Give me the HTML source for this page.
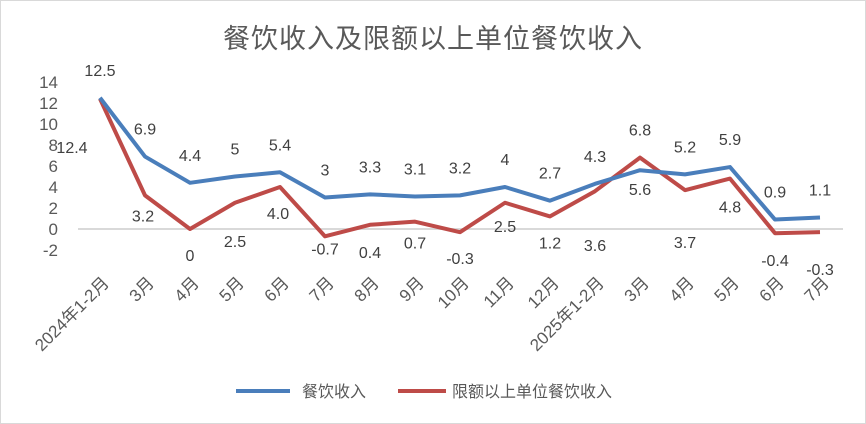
<!DOCTYPE html>
<html><head><meta charset="utf-8"><style>
body{margin:0;background:#fff}
svg{display:block;font-family:"Liberation Sans","Noto Sans CJK SC",sans-serif}
</style></head><body>
<svg id="chart" width="866" height="424" viewBox="0 0 866 424">
<rect x="0.5" y="0.5" width="865" height="423" fill="#fff" stroke="#d9d9d9"/>
<text x="433" y="48" text-anchor="middle" font-size="27" fill="#595959" letter-spacing="1">餐饮收入及限额以上单位餐饮收入</text>
<g id="grid"></g><g id="lines"></g><g id="labels"></g>
<g>
<line x1="236" y1="391" x2="290" y2="391" stroke="#4a7ebb" stroke-width="4"/>
<text x="302" y="397" font-size="16" fill="#595959">餐饮收入</text>
<line x1="398" y1="391" x2="446" y2="391" stroke="#be4b48" stroke-width="4"/>
<text x="452" y="397" font-size="16" fill="#595959">限额以上单位餐饮收入</text>
</g>
</svg>
<script>
const categories=["2024年1-2月","3月","4月","5月","6月","7月","8月","9月","10月","11月","12月","2025年1-2月","3月","4月","5月","6月","7月"];
const seriesTotal=[12.5,6.9,4.4,5,5.4,3,3.3,3.1,3.2,4,2.7,4.3,5.6,5.2,5.9,0.9,1.1];
const seriesAbove=[12.4,3.2,0,2.5,4.0,-0.7,0.4,0.7,-0.3,2.5,1.2,3.6,6.8,3.7,4.8,-0.4,-0.3];
const labelsTotal=["12.5","6.9","4.4","5","5.4","3","3.3","3.1","3.2","4","2.7","4.3","5.6","5.2","5.9","0.9","1.1"];
const labelsAbove=["12.4","3.2","0","2.5","4.0","-0.7","0.4","0.7","-0.3","2.5","1.2","3.6","6.8","3.7","4.8","-0.4","-0.3"];
const yTicks=[-2,0,2,4,6,8,10,12,14];
const offTotal=[[0,-22],[0,-22],[0,-22],[0,-22],[0,-22],[0,-22],[0,-22],[0,-22],[0,-22],[0,-22],[0,-22],[0,-22],[0,25],[0,-22],[0,-22],[0,-22],[0,-22]];
const offAbove=[[-28,54],[-2,26],[0,32],[0,44],[-2,32],[0,18],[0,33],[0,27],[0,32],[0,29],[0,32],[0,60],[0,-22],[0,58],[0,34],[0,33],[0,43]];
const ns="http://www.w3.org/2000/svg";
const X=i=>100+i*45, Y=v=>229-v*10.5;
function mk(tag,attrs,parent){const e=document.createElementNS(ns,tag);for(const k in attrs)e.setAttribute(k,attrs[k]);parent.appendChild(e);return e;}
const grid=document.getElementById('grid'),lines=document.getElementById('lines'),labels=document.getElementById('labels');
let zl=mk('line',{x1:78,x2:843,y1:Y(0),y2:Y(0),stroke:'#d9d9d9','stroke-width':2},grid);


yTicks.forEach(t=>{const e=mk('text',{x:58,y:Y(t)+6,'text-anchor':'end','font-size':17,fill:'#595959'},grid);e.textContent=t;

});
categories.forEach((c,i)=>{const x=X(i)+10,y=284;const e=mk('text',{x:x,y:y,'text-anchor':'end','font-size':17,fill:'#595959',transform:`rotate(-45 ${x} ${y})`},grid);e.textContent=c;

});
function series(vals,col,name){const p=mk('polyline',{points:vals.map((v,i)=>X(i)+','+Y(v)).join(' '),fill:'none',stroke:col,'stroke-width':4,'stroke-linejoin':'round'},lines);

}
series(seriesAbove,'#be4b48','line-above-quota');
series(seriesTotal,'#4a7ebb','line-total');
function lab(vals,txt,off,name){vals.forEach((v,i)=>{const e=mk('text',{x:X(i)+off[i][0],y:Y(v)+off[i][1],'text-anchor':'middle','font-size':16,fill:'#404040'},labels);e.textContent=txt[i];

});}
lab(seriesTotal,labelsTotal,offTotal,'data-label-total');
lab(seriesAbove,labelsAbove,offAbove,'data-label-above-quota');
</script>
</body></html>
